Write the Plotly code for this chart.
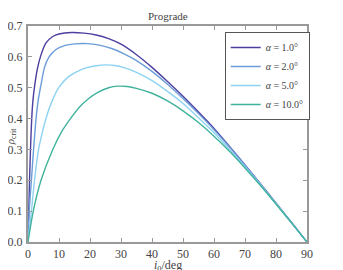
import plotly.graph_objects as go

# Data (inclination in deg, rho_crit)
x_a1 = [0, 0.25, 0.5, 0.8, 1.2, 1.6, 2.2, 3.0, 4.0, 5.8, 8, 10, 14, 18, 22, 26, 30, 35, 40, 45, 50, 55, 60, 65, 70, 75, 80, 85, 90]
y_a1 = [0, 0.1, 0.2, 0.3, 0.4, 0.46, 0.51, 0.56, 0.6, 0.645, 0.666, 0.674, 0.679, 0.677, 0.671, 0.659, 0.641, 0.607, 0.566, 0.520, 0.472, 0.421, 0.368, 0.310, 0.250, 0.188, 0.126, 0.063, 0]

x_a2 = [0, 0.4, 1.1, 1.8, 2.6, 3.3, 4.2, 5.3, 6.6, 9, 12, 15, 19, 23, 27, 31, 35, 40, 45, 50, 55, 60, 65, 70, 75, 80, 85, 90]
y_a2 = [0, 0.1, 0.2, 0.3, 0.4, 0.46, 0.51, 0.565, 0.597, 0.624, 0.637, 0.642, 0.643, 0.638, 0.627, 0.610, 0.588, 0.553, 0.511, 0.465, 0.416, 0.364, 0.308, 0.249, 0.188, 0.126, 0.063, 0]

x_a5 = [0, 1.1, 2.1, 3.4, 4.5, 5.8, 7.5, 9.9, 13, 16, 19, 22, 25, 28, 31, 35, 40, 45, 50, 55, 60, 65, 70, 75, 80, 85, 90]
y_a5 = [0, 0.1, 0.2, 0.3, 0.35, 0.4, 0.45, 0.5, 0.535, 0.553, 0.565, 0.571, 0.574, 0.572, 0.565, 0.550, 0.523, 0.488, 0.449, 0.403, 0.354, 0.300, 0.244, 0.185, 0.124, 0.062, 0]

x_a10 = [0, 1.7, 4.2, 8, 11, 13.7, 16.5, 19.5, 22.5, 26, 29, 32, 35, 40, 45, 50, 55, 60, 65, 70, 75, 80, 85, 90]
y_a10 = [0, 0.1, 0.2, 0.3, 0.36, 0.4, 0.436, 0.464, 0.485, 0.5, 0.505, 0.504, 0.498, 0.482, 0.457, 0.425, 0.387, 0.343, 0.294, 0.240, 0.183, 0.123, 0.062, 0]

labels = ["<i>α</i> = 1.0°", "<i>α</i> = 2.0°", "<i>α</i> = 5.0°", "<i>α</i> = 10.0°"]
colors = ["#4b3f9f", "#6b9dd8", "#8dd2f2", "#3fb39c"]

x_ticks = [0, 10, 20, 30, 40, 50, 60, 70, 80, 90]
y_ticks = [0.0, 0.1, 0.2, 0.3, 0.4, 0.5, 0.6, 0.7]
y_tick_text = ["0.0", "0.1", "0.2", "0.3", "0.4", "0.5", "0.6", "0.7"]

series = [(x_a1, y_a1), (x_a2, y_a2), (x_a5, y_a5), (x_a10, y_a10)]

fig = go.Figure()
for (xs, ys), lab, col in zip(series, labels, colors):
    fig.add_trace(go.Scatter(x=xs, y=ys, mode="lines", name=lab,
                             line=dict(color=col, width=1.4, shape="spline", smoothing=0.8)))

FONT = "Liberation Serif"
axis_common = dict(showline=True, linecolor="#999999", linewidth=2, mirror="ticks",
                   ticks="inside", ticklen=4, tickcolor="#999999", tickwidth=1,
                   showgrid=False, zeroline=False, automargin=False,
                   tickfont=dict(family=FONT, size=12, color="#444444"))

fig.update_xaxes(range=[0, 90], tickvals=x_ticks, ticklabelstandoff=0, **axis_common)
fig.update_yaxes(range=[0, 0.7], tickvals=y_ticks, ticktext=y_tick_text, ticklabelstandoff=1, **axis_common)

# the page body has an 8px margin, so the figure is offset by 8px right/down
fig.update_layout(
    width=335, height=262,
    margin=dict(l=20, r=36, t=18, b=28),
    paper_bgcolor="white", plot_bgcolor="white",
    showlegend=True,
    legend=dict(x=0.705, y=0.972, xanchor="left", yanchor="top",
                bordercolor="#555555", borderwidth=1, bgcolor="white",
                font=dict(family=FONT, size=10, color="#444444"),
                tracegroupgap=0, itemwidth=30),
    annotations=[
        dict(text="Prograde", xref="paper", yref="paper", x=0.5, y=1.0,
             xanchor="center", yanchor="bottom", yshift=2, showarrow=False,
             font=dict(family=FONT, size=11, color="#444444")),
        dict(text="<i>i</i><sub>0</sub>/deg", xref="paper", yref="paper", x=0.5, y=0,
             xanchor="center", yanchor="top", yshift=-14, showarrow=False,
             font=dict(family=FONT, size=12, color="#444444")),
        dict(text="<i>ρ</i><sub>crit</sub>", xref="paper", yref="paper", x=0, y=0.485,
             xanchor="center", yanchor="middle", xshift=-17, textangle=-90, showarrow=False,
             font=dict(family=FONT, size=11, color="#444444")),
    ],
)

fig.write_html("out.html")
